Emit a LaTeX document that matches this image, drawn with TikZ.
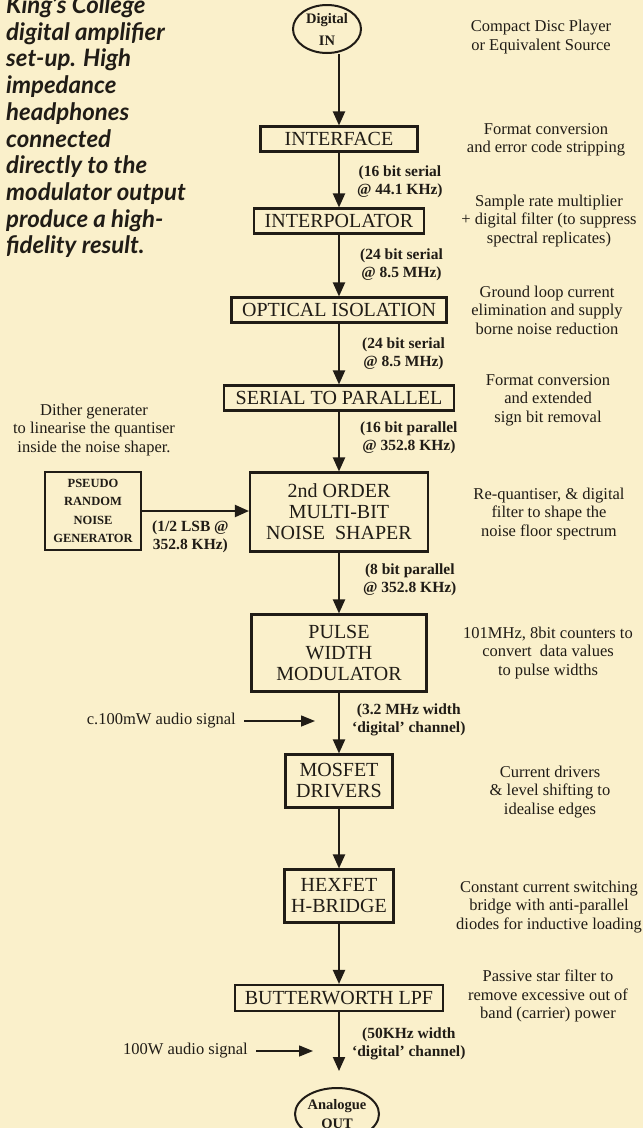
\documentclass[tikz,border=0pt]{standalone}
\usepackage{fontspec}
\setmainfont{Liberation Serif}
\newfontfamily\capfont{Lato}
\usetikzlibrary{arrows.meta,shapes.geometric}
\definecolor{papercream}{RGB}{250,240,203}
\definecolor{inkdark}{RGB}{32,28,22}

\begin{document}
\begin{tikzpicture}[x=1pt,y=1pt,yscale=-1,
  every node/.style={text=inkdark},
  blockbox/.style={draw=inkdark,line width=2.1pt,rectangle,inner sep=0pt,align=center,font=\fontsize{20}{21}\selectfont},
  endcap/.style={draw=inkdark,line width=2pt,ellipse,inner sep=0pt,align=center},
  ratelbl/.style={anchor=west,inner sep=0pt,align=center,font=\fontsize{15.5}{17.5}\selectfont\bfseries},
  notetext/.style={inner sep=0pt,align=center,font=\fontsize{16.5}{18.5}\selectfont},
  flow/.style={draw=inkdark,line width=2pt,-{Triangle[width=12pt,length=14pt]}},
  feed/.style={draw=inkdark,line width=1.4pt,-{Triangle[width=11pt,length=14pt]}}]
%set page to the scan size
\useasboundingbox (0,0) rectangle (643,1128);
\fill[papercream] (0,0) rectangle (643,1128);

% Caption
\node[anchor=north west,inner sep=0pt,align=left,font=\capfont\fontsize{24}{26.7}\selectfont\bfseries\itshape] (caption) at (6,-5) {King’s College\\digital amplifier\\set-up. High\\impedance\\headphones\\connected\\directly to the\\modulator output\\produce a high-\\fidelity result.};

%Shape: Ellipse
\node[endcap,minimum width=68pt,minimum height=48pt,font=\fontsize{14.5}{22}\selectfont\bfseries] (din) at (327,29) {Digital\\IN};
%Shape: Rectangle
\node[blockbox,minimum width=157pt,minimum height=25pt] (iface) at (339,139) {INTERFACE};
%Shape: Rectangle
\node[blockbox,minimum width=170pt,minimum height=25pt] (interp) at (339,221) {INTERPOLATOR};
%Shape: Rectangle
\node[blockbox,minimum width=215pt,minimum height=25pt] (optic) at (339,310) {OPTICAL ISOLATION};
%Shape: Rectangle
\node[blockbox,minimum width=230pt,minimum height=25pt] (sertopar) at (339,398) {SERIAL TO PARALLEL};
%Shape: Rectangle
\node[blockbox,minimum width=178pt,minimum height=79pt] (shaper) at (339,512) {2nd ORDER\\MULTI-BIT\\NOISE\ \ SHAPER};
%Shape: Rectangle
\node[blockbox,minimum width=96pt,minimum height=78pt,font=\fontsize{12.5}{18.5}\selectfont\bfseries] (prng) at (93,511) {PSEUDO\\RANDOM\\NOISE\\GENERATOR};
%Shape: Rectangle
\node[blockbox,minimum width=175pt,minimum height=77pt] (pwm) at (339,653) {PULSE\\WIDTH\\MODULATOR};
%Shape: Rectangle
\node[blockbox,minimum width=107pt,minimum height=53pt] (mosdrv) at (339,781) {MOSFET\\DRIVERS};
%Shape: Rectangle
\node[blockbox,minimum width=109pt,minimum height=53pt] (hbridge) at (339,896) {HEXFET\\H-BRIDGE};
%Shape: Rectangle
\node[blockbox,minimum width=208pt,minimum height=26pt] (lpf) at (339,998) {BUTTERWORTH LPF};
%Shape: Ellipse
\node[endcap,minimum width=84pt,minimum height=52pt,font=\fontsize{14.5}{19}\selectfont\bfseries] (aout) at (337,1114) {Analogue\\OUT};

%Straight Lines
\draw[flow] (din.south -| iface.north) -- (iface.north);
\draw[flow] (iface) -- (interp);
\draw[flow] (interp) -- (optic);
\draw[flow] (optic) -- (sertopar);
\draw[flow] (sertopar) -- (shaper);
\draw[flow] (prng.east) -- (prng.east -| shaper.west);
\draw[flow] (shaper) -- (pwm);
\draw[flow] (pwm) -- (mosdrv);
\draw[flow] (mosdrv) -- (hbridge);
\draw[flow] (hbridge) -- (lpf);
\draw[flow,shorten >=16pt] (lpf.south) -- (lpf.south |- aout.north);

% Text Node
\node[ratelbl] (rate1) at (357,182) {(16 bit serial\\@ 44.1 KHz)};
\node[ratelbl] (rate2) at (360,265) {(24 bit serial\\@ 8.5 MHz)};
\node[ratelbl] (rate3) at (362,354) {(24 bit serial\\@ 8.5 MHz)};
\node[ratelbl] (rate4) at (360,438) {(16 bit parallel\\@ 352.8 KHz)};
\node[ratelbl] (rate5) at (152,537) {(1/2 LSB @\\352.8 KHz)};
\node[ratelbl] (rate6) at (363,580) {(8 bit parallel\\@ 352.8 KHz)};
\node[ratelbl] (rate7) at (352,720) {(3.2 MHz width\\`digital' channel)};
\node[ratelbl] (rate8) at (352,1044) {(50KHz width\\`digital' channel)};

% Text Node
\node[notetext] (note1) at (541,37) {Compact Disc Player\\or Equivalent Source};
\node[notetext] (note2) at (546,140) {Format conversion\\and error code stripping};
\node[notetext] (note3) at (549,221) {Sample rate multiplier\\+ digital filter (to suppress\\spectral replicates)};
\node[notetext] (note4) at (547,310) {Ground loop current\\elimination and supply\\borne noise reduction};
\node[notetext] (note5) at (548,400) {Format conversion\\and extended\\sign bit removal};
\node[notetext] (dither) at (94,430) {Dither generater\\to linearise the quantiser\\inside the noise shaper.};
\node[notetext] (note6) at (549,514) {Re-quantiser, \& digital\\filter to shape the\\noise floor spectrum};
\node[notetext] (note7) at (548,653) {101MHz, 8bit counters to\\convert\ \ data values\\to pulse widths};
\node[notetext] (note8) at (550,792) {Current drivers\\\& level shifting to\\idealise edges};
\node[notetext] (note9) at (549,907) {Constant current switching\\bridge with anti-parallel\\diodes for inductive loading};
\node[notetext] (note10) at (548,996) {Passive star filter to\\remove excessive out of\\band (carrier) power};

% Text Node
\node[notetext,anchor=east] (sig100m) at (236,721) {c.100mW audio signal};
\coordinate (sig100mtip) at (315,721);
\draw[feed,shorten <=8pt] (sig100m) -- (sig100mtip);
% Text Node
\node[notetext,anchor=east] (sig100w) at (248,1051) {100W audio signal};
\coordinate (sig100wtip) at (313,1051);
\draw[feed,shorten <=8pt] (sig100w) -- (sig100wtip);
\end{tikzpicture}
\end{document}
